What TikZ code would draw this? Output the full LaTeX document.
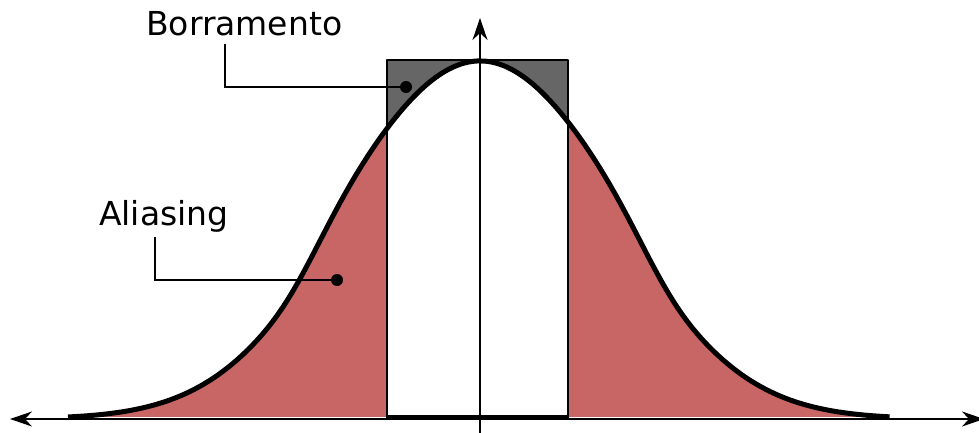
\documentclass[tikz,border=0pt]{standalone}
\usepackage{fontspec}
\setmainfont{DejaVu Sans}
\usetikzlibrary{arrows.meta}
\definecolor{aliasred}{RGB}{200,102,102}
\definecolor{blurgray}{RGB}{102,102,102}
\tikzset{
  >={Stealth[length=22pt,width=15pt,inset=7pt]},
  axisline/.style={line width=2pt},
  leader/.style={line width=2.2pt},
  dotmark/.style={circle, fill=black, inner sep=0pt, minimum size=12pt},
  lbl/.style={inner sep=0pt, anchor=base west, font=\fontsize{33}{38}\selectfont},
  gauss/.style={line width=5pt, line cap=butt, line join=round}
}
\newcommand{\gy}[1]{419-358*exp(-((#1)*(#1))*(0.24+0.065*(1-exp(-min(((#1)*(#1)/2.89)^3,20)))))}
\begin{document}
\begin{tikzpicture}[x=1pt,y=-1pt]
\useasboundingbox (0,0) rectangle (979,433);
% red area under the whole curve
\fill[aliasred] plot[domain=-4.12:4.1, samples=260] ({480+100*\x},{\gy{\x}}) -- cycle;
% box: gray above curve, white below
\begin{scope}
\clip (387,60) rectangle (568,419);
\fill[blurgray] (387,60) rectangle (568,419);
\fill[white] plot[domain=-1.2:1.2, samples=100] ({480+100*\x},{\gy{\x}}) -- (600,425) -- (360,425) -- cycle;
\end{scope}
% box outline
\draw[line width=2.2pt, line join=round] (387,419) -- (387,60) -- (568,60) -- (568,419);
\draw[line width=4pt] (387,417) -- (568,417);
% axes
\coordinate (xl) at (10,419);
\coordinate (xr) at (984,419);
\coordinate (yb) at (480,433);
\coordinate (yt) at (480,18);
\draw[axisline, <->] (xl) -- (xr);
\draw[axisline, ->] (yb) -- (yt);
% curve
\draw[gauss] plot[domain=-4.12:4.1, samples=260] ({480+100*\x},{\gy{\x}});
% labels
\node[lbl] (bor) at (146,36) {Borramento};
\node[lbl] (ali) at (99,225) {Aliasing};
\node[dotmark] (bdot) at (406,87) {};
\node[dotmark] (adot) at (337,280) {};
\draw[leader] (225,44) |- (bdot.center);
\draw[leader] (155,237) |- (adot.center);
\end{tikzpicture}
\end{document}
